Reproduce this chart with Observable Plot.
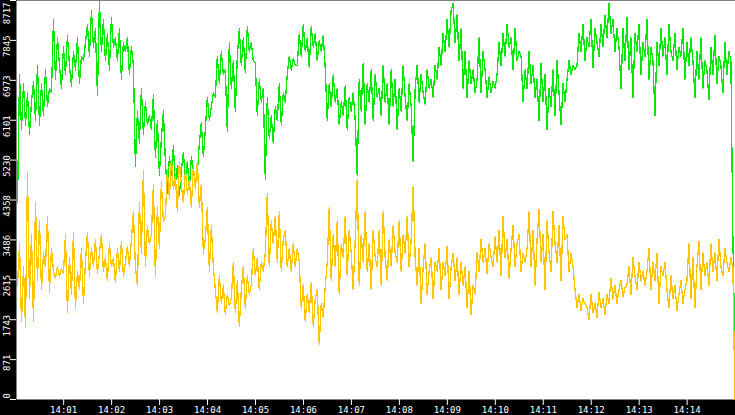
<!DOCTYPE html>
<html>
<head>
<meta charset="utf-8">
<script src="https://cdn.jsdelivr.net/npm/d3@7"></script>
<script src="https://cdn.jsdelivr.net/npm/@observablehq/plot@0.6"></script>
<style>
  html, body { margin: 0; padding: 0; background: #000; overflow: hidden; }
  svg { display: block; }
</style>
</head>
<body>
<div id="chart"></div>
<script>
// ---- data ----
const startTime = Date.UTC(2024, 0, 1, 14, 0, 1);   // left edge of the chart
const endTime = Date.UTC(2024, 0, 1, 14, 15, 0, 500); // right edge of the chart
const sampleSeconds = 2.5;                          // sampling interval
const firstOffsetSeconds = 1.25;

const yTicks = [0, 871, 1743, 2615, 3486, 4358, 5230, 6101, 6973, 7845, 8717];
const xTickLabels = ["14:01","14:02","14:03","14:04","14:05","14:06","14:07","14:08","14:09","14:10","14:11","14:12","14:13","14:14"];

const greenValues = [
  4300, 7100,
  5900, 6900, 6000, 6700, 5800, 6500, 6950, 6100,
  7300, 6000, 6900, 6200, 7200, 6400, 6800,
  6700, 8300, 7000, 7900, 7300,
  6800, 7700, 7100, 7950, 7300, 6850, 7600, 7200, 7900, 6900, 7500, 7400,
  7800, 8200, 7500, 8500, 7700, 8100, 6650, 8700, 7600, 8300, 7400, 8000, 7200, 8350, 7700, 7900,
  7400, 8100, 7000, 7800, 7600, 7900, 7100, 7700,
  7300, 5100,
  6300, 5600, 6800, 5800, 6500, 6000, 6200,
  5900, 6650, 5300, 6100, 4900, 5700, 6300, 5200,
  4500, 5300, 4900, 5550, 4700, 5100, 4450, 5000, 5400, 4800, 5200, 4600, 5300, 5000, 4700,
  4950, 5600, 6050, 5300,
  5900, 6600, 6100, 6400, 6700,
  6600, 7500, 6900, 7600, 7100,
  7200, 5850, 7800, 6800, 7400, 6300,
  7500, 8100, 7300, 7900, 7150, 8150, 7600, 7800, 7400,
  7350, 6200, 7000, 6500, 6800,
  4800, 6600, 5700, 6200, 5600, 6400,
  6100, 6900, 6000, 6700, 6500,
  7100, 7500, 7200, 7450, 7300,
  7300, 8000, 7500, 8200, 7600, 7900, 7250, 8150, 7700, 8000, 7400, 7850, 7600, 7950,
  7250, 6100, 6900, 6400, 7100, 6500,
  6800, 6000, 6500, 6200, 6850, 5900, 6600, 6300, 6700, 6100,
  4900, 7000, 6300, 7350, 6000, 6900, 6500, 7200, 6100, 7100, 6600, 6800,
  6200, 7300, 6500, 6900, 6000, 7200, 6400, 7000, 5900, 6800, 6300, 7300, 6600, 6100, 6900, 6400, 5200,
  6800, 7300, 6500, 7100, 6700, 6450, 7200, 6800, 7000, 6600, 7300,
  7000, 7700, 7300, 8000, 7600, 8300, 7700, 8500, 8650, 7800, 8400, 7400, 8100, 6800, 7600,
  6600, 7400, 6900, 7200, 6700,
  7000, 7900, 6700, 7600, 7200,
  6600, 7050, 6700, 6950, 6800,
  7100, 7800, 7300, 8000, 7500, 8200, 7700, 7900, 7200, 8100, 7400, 7600,
  7500, 6500, 7200, 6800, 7600, 6900, 7300, 6600,
  7000, 6100, 7350, 6500, 7100, 5900, 6800, 6400, 7200, 6200, 7400, 6700, 6000, 6900, 6500,
  7000, 7400, 7100, 7300, 7200,
  7300, 8000, 7600, 8200, 7400, 7900, 7700, 8300, 7250, 8100, 7800, 7500, 8200, 7700, 8400, 7900, 8650, 8000, 8300, 7600, 8100, 7700,
  6800, 8100, 7400, 8350, 7200, 7900, 6600, 8000, 7600, 8200, 7100, 7800, 7500, 8300, 7000, 7700, 7400,
  6200, 7800, 7300, 8100, 7500, 7900, 7100, 8200, 7600, 7400, 8000, 7200, 7700, 7500, 8100, 7000, 7800, 7300, 7900, 7400,
  6600, 7600, 7000, 7900, 6800, 7400, 7200, 6550, 7700, 7100, 7950, 6900, 7500, 7300, 6700, 7800, 7100, 7600, 7400,
  3500, 1070
];

const yellowValues = [
  2500, 3400, 1700, 2900,
  1600, 4950, 2200, 3600, 1700, 4300,
  2600, 3900, 2400, 3200, 2900, 4000, 2350, 3300, 2800,
  2650, 2900, 2700, 2850, 2750,
  3600, 1900, 3100, 2300, 3650, 2000, 2800, 2400, 3300, 2100,
  3000, 3650, 2700, 3300, 2900, 3500, 2750, 3200, 3600, 2800, 3100,
  2600, 3400, 2900, 3100, 2550, 3300, 2800, 3450, 2700, 3000, 3350, 2900,
  3500, 4100, 2900,
  2500, 4300, 3200, 5000, 2900, 3800, 3400,
  3600, 4700, 2700, 4200, 3300, 4750, 3900,
  4000, 5000, 4400, 5250, 4600, 4900, 4100, 5200, 4700, 4300, 5000, 4500, 4800, 4200, 5100, 4600,
  5200, 4200, 4700, 3200,
  3500, 4200, 2800, 3800, 2900,
  2400, 1900, 2700, 2100, 2500, 1850, 2300, 2050,
  2200, 3000, 1900, 2600, 1600, 2400, 2900, 2000, 2700, 2300,
  2500, 3300, 2700, 3100, 2400, 3000, 2800,
  3200, 4500, 2900, 3900, 3400, 4000,
  3000, 4100, 2800, 3500, 3700, 2900, 3300,
  2800, 3400, 2900, 3300, 3000,
  2000, 2500, 1700, 2300, 1900, 2550, 1600, 2200, 2400, 1200, 2100, 1800, 2450,
  3000, 4200, 2600, 3600, 2900, 3900, 2300, 3400, 3100, 4000, 2700, 3700, 3200, 2400, 3500,
  4800, 2500, 3600, 3000, 4100, 2800, 3400, 2400, 3700, 3100,
  2900, 3700, 2500, 4100, 3100, 2600, 3500, 2900, 3800, 3200,
  3000, 3900, 2800, 3600, 3200, 4000, 2900, 3500, 4650, 3100,
  2500, 3300, 2100, 2900, 3400, 2300, 2800, 3100, 2200, 3000,
  2800, 3300, 2400, 3000, 2700, 3350, 2200, 2900, 3200, 2600, 3100, 2300, 3000, 2500, 2900,
  2000, 2800, 1850, 2500, 2300,
  3200, 2800, 3500, 3000, 3300, 2750, 3400, 3100, 2900, 3550,
  3000, 3700, 2700, 4000, 3100, 3500, 2650, 3300, 3800, 2900, 3400, 3600, 2800, 3200, 3000,
  3300, 4100, 2900, 3700, 2500, 3500, 4150, 3000, 3600, 2400, 3900, 3200, 2800, 4100, 3400, 3000, 3800, 2600, 4000, 3500,
  3600, 2800, 3200, 2900,
  2400, 2000, 2300, 1950, 2200, 2100,
  2000, 1750, 2300, 1900, 2100, 1800, 2350, 2000, 2200, 1850,
  2300, 2100, 2650, 2200, 2500, 2100, 2400, 2600, 2250, 2450,
  2500, 2900, 2300, 3100, 2700, 2400, 3000, 2600, 2800, 2500,
  2800, 3300, 2400, 3000, 2600, 3200, 2100, 2900, 2700, 3000,
  2400, 2000, 2700, 2200, 2500, 1950, 2300, 2600, 2100, 2400,
  2600, 3400, 2200, 3100, 2000, 2900, 3450, 2400, 3200, 2700,
  3000, 2500, 3400, 2800, 3200, 2600, 3500, 2900, 2700, 3300, 3000, 2800, 3100, 2900,
  0
];

// ---- build tables ----
const timeAt = (i) => new Date(startTime + (firstOffsetSeconds + i * sampleSeconds) * 1000);
const green = greenValues.map((v, i) => ({t: timeAt(i), v}));
const yellow = yellowValues.map((v, i) => ({t: timeAt(i), v}));
const parseHM = (s) => { const [h, m] = s.split(":").map(Number); return new Date(Date.UTC(2024, 0, 1, h, m, 0)); };
const xTicks = xTickLabels.map(parseHM);

const font = "DejaVu Sans Mono";
const midTicks = yTicks.slice(1, -1);

const chart = Plot.plot({
  width: 735,
  height: 415,
  marginLeft: 16,
  marginRight: 0,
  marginTop: 0,
  marginBottom: 16,
  style: {background: "#000", fontFamily: font, fontSize: "9px", overflow: "visible"},
  x: {type: "utc", domain: [new Date(startTime), new Date(endTime)], axis: null},
  y: {domain: [0, 8717], axis: null},
  marks: [
    Plot.frame({fill: "#fff", stroke: null}),
    Plot.line(green, {x: "t", y: "v", stroke: "#0ae80a", strokeWidth: 1.3, shapeRendering: "crispEdges", curve: "linear"}),
    Plot.line(yellow, {x: "t", y: "v", stroke: "#ffc400", strokeWidth: 1.3, shapeRendering: "crispEdges", curve: "linear"}),
    // x axis
    Plot.axisX({ticks: xTicks, tickSize: 6, tickPadding: 1, tickFormat: d3.utcFormat("%H:%M"),
      stroke: "#fff", fill: "#fff", fontFamily: font, fontSize: 9, label: null, anchor: "bottom"}),
    // y axis ticks
    Plot.axisY({ticks: yTicks, tickSize: 6, tickFormat: () => "", stroke: "#fff", fill: "#fff", label: null, anchor: "left"}),
    // y axis labels (rotated)
    Plot.text(midTicks, {y: (d) => d, text: (d) => String(d), frameAnchor: "left", dx: -9, dy: -5,
      rotate: -90, textAnchor: "end", lineAnchor: "middle", fill: "#fff", fontFamily: font, fontSize: 9}),
    Plot.text([yTicks[0]], {y: (d) => d, text: (d) => String(d), frameAnchor: "left", dx: -9, dy: -1,
      rotate: -90, textAnchor: "start", lineAnchor: "middle", fill: "#fff", fontFamily: font, fontSize: 9}),
    Plot.text([yTicks[yTicks.length - 1]], {y: (d) => d, text: (d) => String(d), frameAnchor: "left", dx: -9, dy: 2,
      rotate: -90, textAnchor: "end", lineAnchor: "middle", fill: "#fff", fontFamily: font, fontSize: 9})
  ]
});
document.getElementById("chart").appendChild(chart);
</script>
</body>
</html>
